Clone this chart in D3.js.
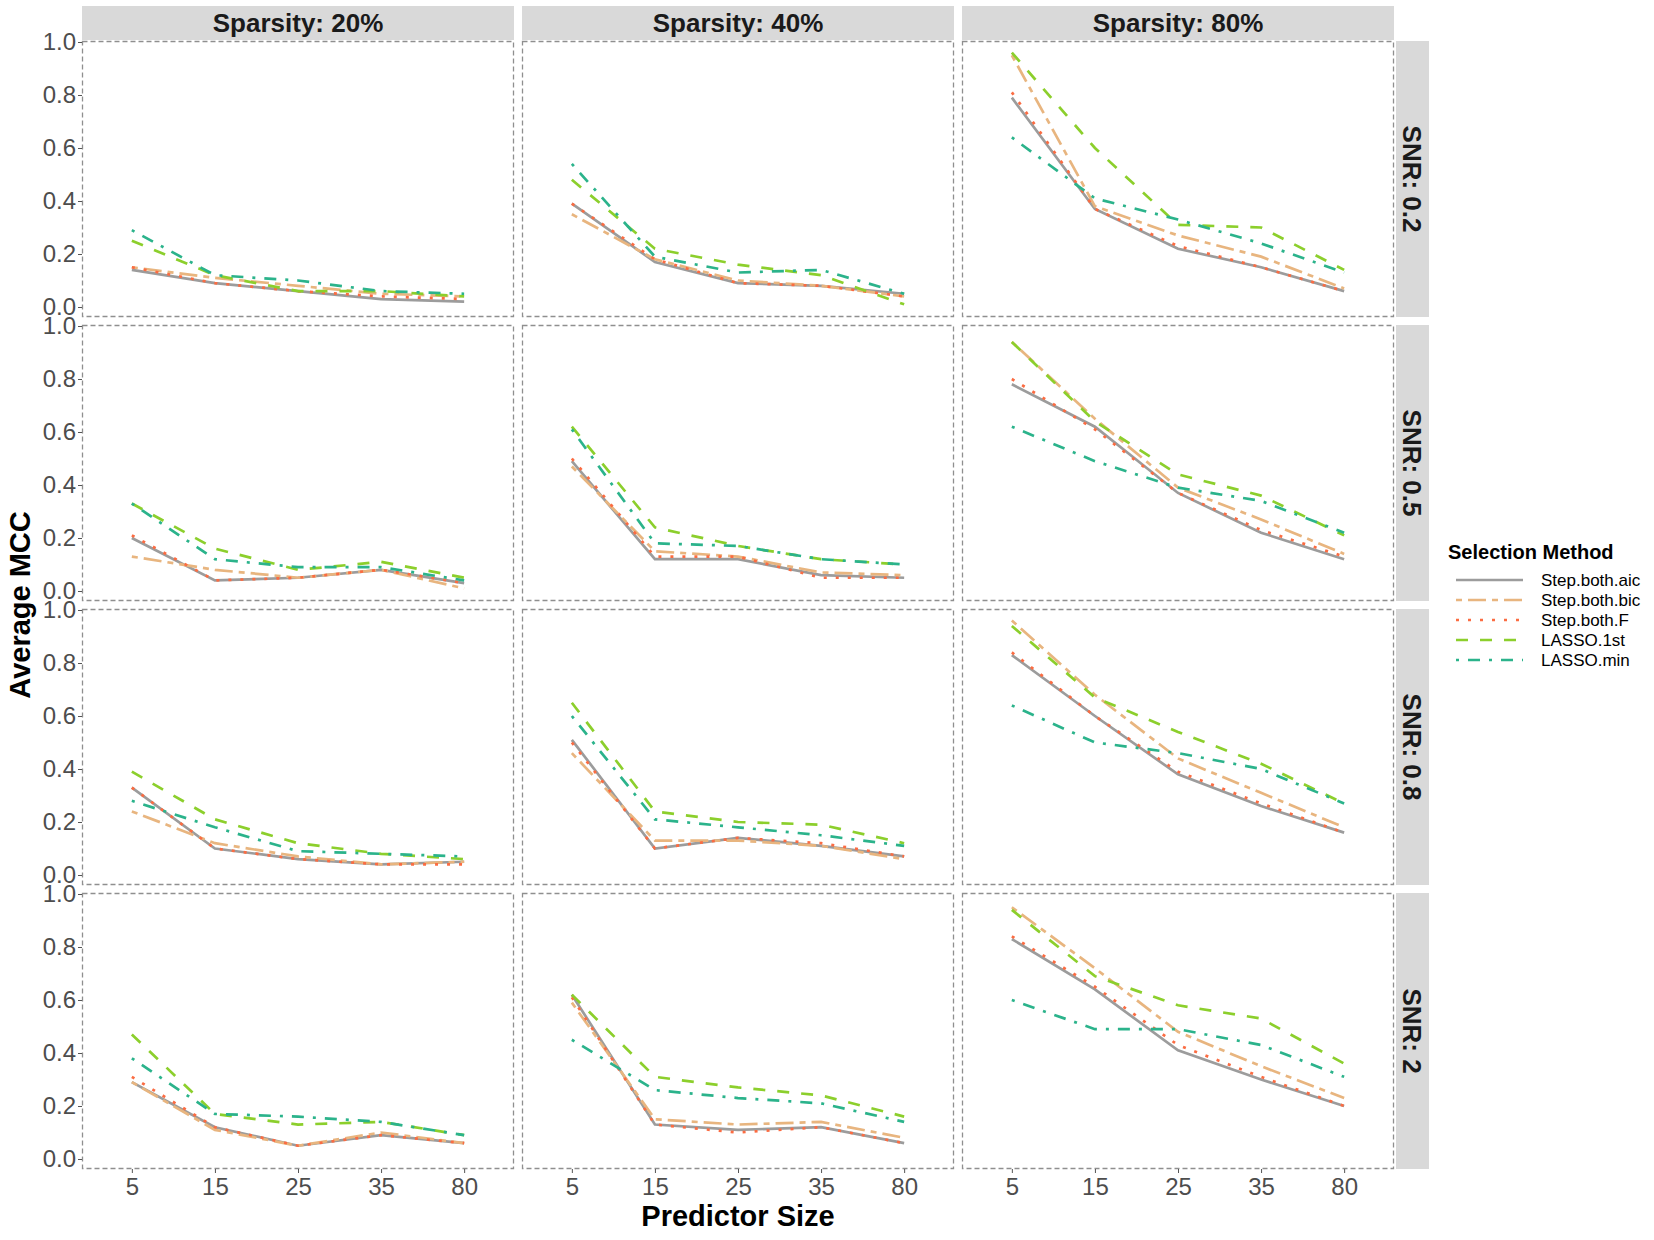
<!DOCTYPE html>
<html>
<head>
<meta charset="utf-8">
<script src="https://cdn.jsdelivr.net/npm/d3@7"></script>
<style>
  body { margin: 0; background: #fff; }
  text { font-family: "Liberation Sans", Arial, sans-serif; }
</style>
</head>
<body>
<div id="chart"></div>
<script>
// facet levels
const sparsityLevels = ["20%", "40%", "80%"];
const snrLevels = ["0.2", "0.5", "0.8", "2"];
const predictorSizes = ["5", "15", "25", "35", "80"];
const methods = ["Step.both.aic", "Step.both.bic", "Step.both.F", "LASSO.1st", "LASSO.min"];
const yTicks = [0, 0.2, 0.4, 0.6, 0.8, 1.0];

// average MCC per panel (row = SNR, col = sparsity), values over predictor sizes
const stepAic = [
  [[0.14, 0.09, 0.06, 0.03, 0.02], [0.39, 0.17, 0.09, 0.08, 0.05], [0.79, 0.37, 0.22, 0.15, 0.06]],
  [[0.20, 0.04, 0.05, 0.08, 0.03], [0.49, 0.12, 0.12, 0.06, 0.05], [0.78, 0.62, 0.37, 0.22, 0.12]],
  [[0.33, 0.10, 0.06, 0.04, 0.05], [0.51, 0.10, 0.14, 0.11, 0.07], [0.83, 0.60, 0.38, 0.26, 0.16]],
  [[0.29, 0.12, 0.05, 0.09, 0.06], [0.62, 0.13, 0.11, 0.12, 0.06], [0.83, 0.64, 0.41, 0.30, 0.20]]
];
const stepBic = [
  [[0.15, 0.11, 0.08, 0.05, 0.04], [0.35, 0.18, 0.10, 0.08, 0.04], [0.95, 0.38, 0.27, 0.19, 0.07]],
  [[0.13, 0.08, 0.05, 0.08, 0.01], [0.47, 0.15, 0.13, 0.07, 0.06], [0.94, 0.65, 0.39, 0.27, 0.14]],
  [[0.24, 0.12, 0.07, 0.04, 0.05], [0.46, 0.13, 0.13, 0.11, 0.06], [0.96, 0.68, 0.44, 0.31, 0.18]],
  [[0.29, 0.11, 0.05, 0.10, 0.06], [0.59, 0.15, 0.13, 0.14, 0.08], [0.95, 0.72, 0.48, 0.35, 0.23]]
];
const stepF = [
  [[0.15, 0.09, 0.06, 0.04, 0.03], [0.39, 0.18, 0.09, 0.08, 0.04], [0.81, 0.37, 0.23, 0.15, 0.06]],
  [[0.21, 0.04, 0.05, 0.08, 0.03], [0.50, 0.13, 0.13, 0.05, 0.05], [0.80, 0.61, 0.37, 0.23, 0.13]],
  [[0.33, 0.10, 0.06, 0.04, 0.04], [0.50, 0.10, 0.14, 0.12, 0.07], [0.84, 0.60, 0.39, 0.27, 0.16]],
  [[0.31, 0.12, 0.05, 0.09, 0.06], [0.61, 0.13, 0.10, 0.12, 0.06], [0.84, 0.65, 0.43, 0.31, 0.20]]
];
const lasso1st = [
  [[0.25, 0.12, 0.06, 0.06, 0.04], [0.48, 0.22, 0.16, 0.12, 0.01], [0.96, 0.60, 0.31, 0.30, 0.14]],
  [[0.33, 0.16, 0.08, 0.11, 0.05], [0.62, 0.24, 0.17, 0.12, 0.10], [0.94, 0.64, 0.44, 0.36, 0.21]],
  [[0.39, 0.21, 0.12, 0.08, 0.06], [0.65, 0.24, 0.20, 0.19, 0.12], [0.94, 0.67, 0.54, 0.42, 0.27]],
  [[0.47, 0.17, 0.13, 0.14, 0.09], [0.62, 0.31, 0.27, 0.24, 0.16], [0.94, 0.69, 0.58, 0.53, 0.36]]
];
const lassoMin = [
  [[0.29, 0.12, 0.10, 0.06, 0.05], [0.54, 0.19, 0.13, 0.14, 0.05], [0.64, 0.41, 0.33, 0.24, 0.13]],
  [[0.33, 0.12, 0.09, 0.09, 0.04], [0.61, 0.18, 0.17, 0.12, 0.10], [0.62, 0.49, 0.39, 0.34, 0.22]],
  [[0.28, 0.18, 0.09, 0.08, 0.07], [0.60, 0.21, 0.18, 0.15, 0.11], [0.64, 0.50, 0.46, 0.40, 0.27]],
  [[0.38, 0.17, 0.16, 0.14, 0.09], [0.45, 0.26, 0.23, 0.21, 0.14], [0.60, 0.49, 0.49, 0.43, 0.31]]
];

const seriesValues = [stepAic, stepBic, stepF, lasso1st, lassoMin];
const colors = ["#9c9c9c", "#e8b57f", "#fb6c42", "#8ccf2c", "#2bb38b"];
// ggplot linetypes: solid, twodash, dotted, dashed, dotdash (units of line width)
const dashUnits = [null, [2, 2, 6, 2], [1, 3], [4, 4], [1, 3, 4, 3]];
const lw = 2.7;
const dash = i => dashUnits[i] ? dashUnits[i].map(d => d * 3).join(",") : null;

const W = 1654, H = 1240;
const gridLeft = 82, gridTop = 41, pw = 432, ph = 276, gap = 8;
const stripH = 34;

const svg = d3.select("#chart").append("svg")
    .attr("width", W).attr("height", H);

const x = d3.scalePoint().domain(predictorSizes).range([0, pw]).padding(0.6);
const y = d3.scaleLinear().domain([0, 1]).range([266, 1]);

const line = d3.line()
    .x((d, i) => x(predictorSizes[i]))
    .y(d => y(d));

snrLevels.forEach((snr, r) => {
  sparsityLevels.forEach((sp, c) => {
    const px = gridLeft + c * (pw + gap), py = gridTop + r * (ph + gap);
    const g = svg.append("g").attr("transform", `translate(${px},${py})`);

    // lines, drawn in method order
    methods.forEach((m, k) => {
      g.append("path")
        .datum(seriesValues[k][r][c])
        .attr("d", line)
        .attr("fill", "none")
        .attr("stroke", colors[k])
        .attr("stroke-width", lw)
        .attr("stroke-dasharray", dash(k));
    });

    // dashed panel border
    g.append("rect")
      .attr("x", 0.5).attr("y", 0.5)
      .attr("width", pw - 1).attr("height", ph - 1)
      .attr("fill", "none")
      .attr("stroke", "#8f8f8f")
      .attr("stroke-width", 1.3)
      .attr("stroke-dasharray", "5,3");

    if (c === 0) {
      const ya = g.append("g")
        .call(d3.axisLeft(y).tickValues(yTicks).tickFormat(d3.format(".1f")).tickSize(4).tickPadding(2));
      ya.select(".domain").remove();
      ya.selectAll("line").attr("stroke", "#555");
      ya.selectAll("text").attr("fill", "#4d4d4d").style("font-size", "24px");
    }
    if (r === snrLevels.length - 1) {
      const xa = g.append("g").attr("transform", `translate(0,${ph})`)
        .call(d3.axisBottom(x).tickSize(4).tickPadding(5));
      xa.select(".domain").remove();
      xa.selectAll("line").attr("stroke", "#555");
      xa.selectAll("text").attr("fill", "#4d4d4d").style("font-size", "24px");
    }

    // top strips
    if (r === 0) {
      svg.append("rect")
        .attr("x", px).attr("y", gridTop - stripH - 1)
        .attr("width", pw).attr("height", stripH)
        .attr("fill", "#d9d9d9");
      svg.append("text")
        .attr("x", px + pw / 2).attr("y", gridTop - stripH / 2 - 1)
        .attr("text-anchor", "middle").attr("dy", "0.35em")
        .style("font-size", "26px").style("font-weight", "bold")
        .attr("fill", "#1a1a1a")
        .text("Sparsity: " + sp);
    }
    // right strips
    if (c === sparsityLevels.length - 1) {
      const sx = px + pw + 2;
      svg.append("rect")
        .attr("x", sx).attr("y", py)
        .attr("width", 33).attr("height", ph)
        .attr("fill", "#d9d9d9");
      svg.append("text")
        .attr("transform", `translate(${sx + 16.5},${py + ph / 2}) rotate(90)`)
        .attr("text-anchor", "middle").attr("dy", "0.35em")
        .style("font-size", "26px").style("font-weight", "bold")
        .attr("fill", "#1a1a1a")
        .text("SNR: " + snr);
    }
  });
});

const gridRight = gridLeft + 3 * pw + 2 * gap;
const gridBottom = gridTop + 4 * ph + 3 * gap;

// axis titles
svg.append("text")
  .attr("x", (gridLeft + gridRight) / 2).attr("y", 1226)
  .attr("text-anchor", "middle")
  .style("font-size", "29px").style("font-weight", "bold")
  .text("Predictor Size");

svg.append("text")
  .attr("transform", `translate(30,${(gridTop + gridBottom) / 2}) rotate(-90)`)
  .attr("text-anchor", "middle")
  .style("font-size", "29px").style("font-weight", "bold")
  .text("Average MCC");

// legend
const lg = svg.append("g").attr("transform", "translate(1448,0)");
lg.append("text")
  .attr("x", 0).attr("y", 559)
  .style("font-size", "20px").style("font-weight", "bold")
  .text("Selection Method");
methods.forEach((m, k) => {
  const ly = 580 + k * 20;
  lg.append("line")
    .attr("x1", 8).attr("x2", 75).attr("y1", ly).attr("y2", ly)
    .attr("stroke", colors[k]).attr("stroke-width", lw)
    .attr("stroke-dasharray", dash(k));
  lg.append("text")
    .attr("x", 93).attr("y", ly).attr("dy", "0.35em")
    .style("font-size", "17px")
    .text(m);
});
</script>
</body>
</html>
